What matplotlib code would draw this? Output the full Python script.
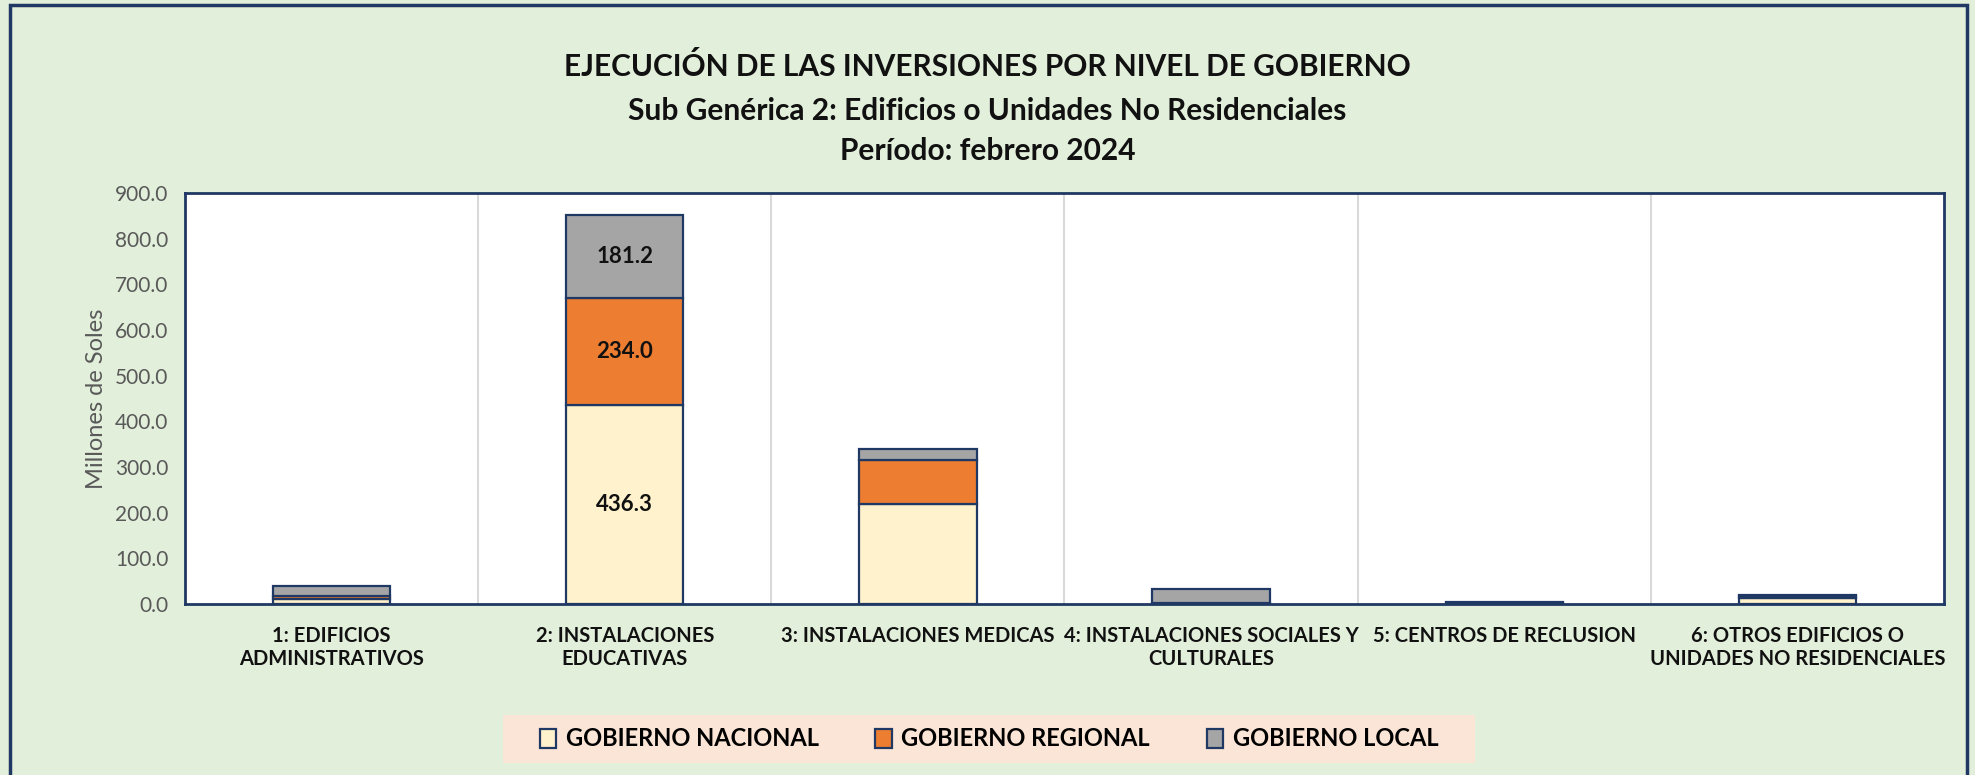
import matplotlib
matplotlib.use("Agg")
import matplotlib.pyplot as plt
import numpy as np
from matplotlib.patches import Rectangle, Patch

plt.rcParams['font.family'] = ['Lato', 'DejaVu Sans']

# -------- data (millones de soles)
categorias = ["1: EDIFICIOS\nADMINISTRATIVOS",
              "2: INSTALACIONES\nEDUCATIVAS",
              "3: INSTALACIONES MEDICAS",
              "4: INSTALACIONES SOCIALES Y\nCULTURALES",
              "5: CENTROS DE RECLUSION",
              "6: OTROS EDIFICIOS O\nUNIDADES NO RESIDENCIALES"]
nacional = [11.0, 436.3, 220.0, 2.0, 1.5, 14.0]
regional = [6.0, 234.0, 95.0, 0.5, 0.5, 2.5]
local = [22.0, 181.2, 25.0, 31.0, 2.0, 4.0]
series = ["GOBIERNO NACIONAL", "GOBIERNO REGIONAL", "GOBIERNO LOCAL"]
yticks = np.arange(0, 901, 100)

navy = '#1F3864'
colores = ['#FFF2CC', '#ED7D31', '#A5A5A5']

fig = plt.figure(figsize=(19.75, 7.75), dpi=100)
fig.patch.set_facecolor('#E2EFDA')
fig.patches.append(Rectangle((10/1975, -0.02), (1967-10)/1975, 1-5/775+0.02,
                             transform=fig.transFigure, fill=False,
                             edgecolor=navy, linewidth=2.5))

ax = fig.add_axes([185/1975, 1-604/775, (1944-185)/1975, (604-193)/775])
ax.set_facecolor('white')

x = np.arange(len(categorias))
w = 0.40
base = np.zeros(len(x))
barras = []
for vals, col in zip([nacional, regional, local], colores):
    b = ax.bar(x, vals, w, bottom=base, color=col, edgecolor=navy, linewidth=1.6, zorder=3)
    barras.append(b)
    base = base + np.array(vals)

# etiquetas solo en instalaciones educativas
for b in barras:
    r = b[1]
    ax.text(r.get_x() + r.get_width()/2, r.get_y() + r.get_height()/2,
            "%.1f" % r.get_height(), ha='center', va='center',
            fontsize=16, fontweight='bold', color='#111111', zorder=4)

ax.set_xlim(-0.5, 5.5)
ax.set_ylim(0, 900)
ax.set_yticks(yticks)
ax.set_yticklabels(["%.1f" % v for v in yticks], fontsize=15, color='#595959')
ax.set_xticks(x)
ax.set_xticklabels(categorias, fontsize=14.5, fontweight='bold', color='#111111', linespacing=1.2)
ax.tick_params(axis='both', length=0)
ax.tick_params(axis='x', pad=16)
ax.tick_params(axis='y', pad=12)
for xb in np.arange(0.5, 5.5, 1.0):
    ax.axvline(xb, color='#D9D9D9', linewidth=1.5, zorder=1)
for s in ax.spines.values():
    s.set_color(navy)
    s.set_linewidth(2)

ax.set_ylabel("Millones de Soles", fontsize=17, color='#595959', labelpad=6)

fig.text(0.5, 1-67/775, "EJECUCIÓN DE LAS INVERSIONES POR NIVEL DE GOBIERNO",
         ha='center', va='center', fontsize=21.5, fontweight='bold', color='#111111')
fig.text(0.5, 1-111/775, "Sub Genérica 2: Edificios o Unidades No Residenciales",
         ha='center', va='center', fontsize=21.5, fontweight='bold', color='#111111')
fig.text(0.5, 1-151/775, "Período: febrero 2024",
         ha='center', va='center', fontsize=21.5, fontweight='bold', color='#111111')

# leyenda
fig.patches.append(Rectangle((503/1975, 1-763/775), (1475-503)/1975, 48/775,
                             transform=fig.transFigure, facecolor='#FBE5D6',
                             edgecolor='none'))
handles = [Patch(facecolor=c, edgecolor=navy, linewidth=1.6) for c in colores]
fig.legend(handles, series, loc='center', bbox_to_anchor=(989/1975, 1-739/775),
           ncol=3, frameon=False, prop={'size': 17, 'weight': 'bold'},
           handlelength=0.7, handleheight=0.9, handletextpad=0.4, columnspacing=2.4)

fig.savefig("out.png", dpi=100, facecolor=fig.get_facecolor())
